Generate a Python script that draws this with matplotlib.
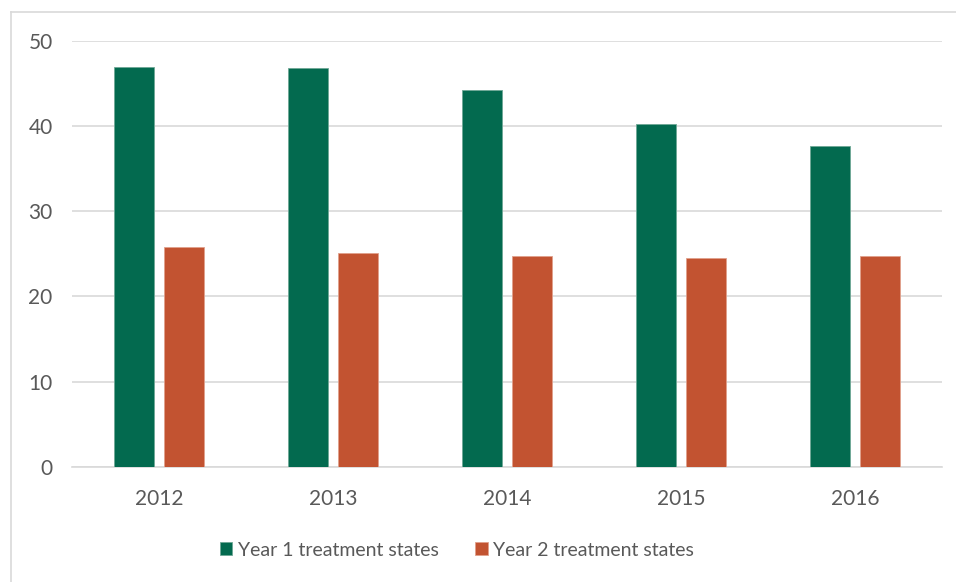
import matplotlib
matplotlib.use("Agg")
import matplotlib.pyplot as plt
import numpy as np
from matplotlib.lines import Line2D
from matplotlib.patches import Patch

plt.rcParams['font.family'] = ['Lato', 'DejaVu Sans']

years = ["2012", "2013", "2014", "2015", "2016"]
year1_states = [47.0, 46.8, 44.3, 40.3, 37.7]
year2_states = [25.8, 25.1, 24.75, 24.5, 24.75]
series_names = ["Year 1 treatment states", "Year 2 treatment states"]

green = "#036a4f"
orange = "#c25331"
grid_color = "#d9d9d9"
text_color = "#595959"

W, H = 956, 582
fig = plt.figure(figsize=(W / 100, H / 100), dpi=100)

# plot area in pixel coordinates
left, right, top, bottom = 72, 942, 41, 466.7
ax = fig.add_axes([left / W, 1 - bottom / H, (right - left) / W, (bottom - top) / H])

x = np.arange(len(years))
width = 0.228
offset = 0.142
ax.bar(x - offset, year1_states, width, color=green, edgecolor="#6fa896", linewidth=0.6, zorder=3)
ax.bar(x + offset, year2_states, width, color=orange, edgecolor="#e0a08c", linewidth=0.6, zorder=3)

ax.set_xlim(-0.5, len(years) - 0.5)
ax.set_ylim(0, 50)
ax.set_yticks(range(0, 51, 10))
ax.set_xticks(x)
ax.set_xticklabels(years)
ax.yaxis.grid(True, color=grid_color, linewidth=1.2, zorder=0)
ax.set_axisbelow(True)
for side in ("top", "right", "left"):
    ax.spines[side].set_visible(False)
ax.spines["bottom"].set_color(grid_color)
ax.spines["bottom"].set_linewidth(1.2)
ax.tick_params(axis="both", length=0, labelsize=15, colors=text_color)
ax.tick_params(axis="y", pad=14)
ax.tick_params(axis="x", pad=16)

# legend
handles = [Patch(facecolor=green, edgecolor="#6fa896", linewidth=0.6),
           Patch(facecolor=orange, edgecolor="#e0a08c", linewidth=0.6)]
fig.legend(handles, series_names, loc="center", bbox_to_anchor=(457 / W, 1 - 550 / H),
           ncol=2, frameon=False, fontsize=14, labelcolor=text_color,
           handlelength=0.62, handleheight=0.62, handletextpad=0.3, columnspacing=1.9)

# chart border
fig.add_artist(Line2D([10.5 / W, 10.5 / W], [0, 1 - 12 / H], color=grid_color, linewidth=1.2))
fig.add_artist(Line2D([10.5 / W, 1], [1 - 12 / H, 1 - 12 / H], color=grid_color, linewidth=1.2))

fig.savefig("out.png", dpi=100)
